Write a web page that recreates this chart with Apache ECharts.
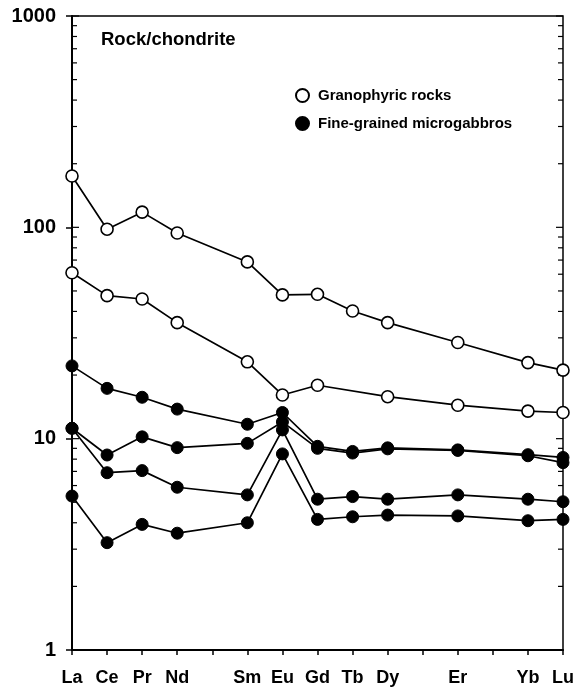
<!DOCTYPE html>
<html>
<head>
<meta charset="utf-8">
<script src="https://cdn.jsdelivr.net/npm/echarts@6/dist/echarts.min.js"></script>
<style>
  html, body { margin: 0; padding: 0; background: #fff; }
  #chart { width: 573px; height: 690px; }
</style>
</head>
<body>
<div id="chart"></div>
<script>
// Rare-earth element sequence along the x axis (Pm, Ho, Tm get a tick but no label)
const elements = ['La', 'Ce', 'Pr', 'Nd', 'Pm', 'Sm', 'Eu', 'Gd', 'Tb', 'Dy', 'Ho', 'Er', 'Tm', 'Yb', 'Lu'];
const analysed = ['La', 'Ce', 'Pr', 'Nd', 'Sm', 'Eu', 'Gd', 'Tb', 'Dy', 'Er', 'Yb', 'Lu'];

// Chondrite-normalised abundances, one value per analysed element
const granophyric1 = [175, 98, 118, 94, 68.6, 47.9, 48.2, 40.2, 35.4, 28.5, 22.9, 21.1];
const granophyric2 = [61, 47.5, 45.8, 35.4, 23.1, 16.1, 17.9, null, 15.8, 14.4, 13.5, 13.3];
const microgabbro1 = [22.1, 17.3, 15.7, 13.8, 11.7, 13.3, 9.2, 8.7, 9.05, 8.85, 8.4, 8.15];
const microgabbro2 = [11.2, 8.37, 10.2, 9.07, 9.5, 12.0, 9.0, 8.55, 8.95, 8.8, 8.3, 7.7];
const microgabbro3 = [11.2, 6.9, 7.06, 5.89, 5.42, 11.0, 5.17, 5.32, 5.17, 5.42, 5.17, 5.03];
const microgabbro4 = [5.35, 3.22, 3.93, 3.57, 4.0, 8.47, 4.15, 4.27, 4.35, 4.31, 4.09, 4.15];

// Log-axis tick positions
const majorTicks = [1, 10, 100, 1000];
const minorTicks = [2, 3, 4, 5, 6, 7, 8, 9, 20, 30, 40, 50, 60, 70, 80, 90, 200, 300, 400, 500, 600, 700, 800, 900];

const openName = 'Granophyric rocks';
const filledName = 'Fine-grained microgabbros';
const FONT = '"Liberation Sans", Arial, Helvetica, sans-serif';

function pairs(values) {
  const out = [];
  values.forEach((v, i) => { if (v !== null) out.push([analysed[i], v]); });
  return out;
}

function pattern(name, values, open) {
  return {
    name: name,
    type: 'line',
    data: pairs(values),
    symbol: 'circle',
    symbolSize: 12,
    lineStyle: { color: '#000', width: 1.7 },
    itemStyle: open
      ? { color: '#fff', borderColor: '#000', borderWidth: 1.6 }
      : { color: '#000', borderColor: '#000', borderWidth: 1 },
    emphasis: { disabled: true },
    z: 3
  };
}

const tickData = majorTicks.map(v => [0, v, 7]).concat(minorTicks.map(v => [0, v, 5]));

const chart = echarts.init(document.getElementById('chart'));
chart.setOption({
  animation: false,
  backgroundColor: '#fff',
  textStyle: { fontFamily: FONT },
  title: {
    text: 'Rock/chondrite',
    left: 96,
    top: 25,
    textStyle: { fontFamily: FONT, fontSize: 18.5, fontWeight: 'bold', color: '#000' }
  },
  legend: {
    data: [openName, filledName],
    orient: 'vertical',
    left: 290,
    top: 83,
    icon: 'circle',
    itemWidth: 13,
    itemHeight: 13,
    itemGap: 13,
    textStyle: { fontFamily: FONT, fontSize: 15, fontWeight: 'bold', color: '#000', padding: [0, 0, 0, 4] },
    selectedMode: false
  },
  grid: {
    left: 72, right: 10, top: 16, bottom: 40,
    outerBoundsMode: 'none',
    containLabel: false,
    show: true, borderColor: '#000', borderWidth: 1.5
  },
  xAxis: {
    type: 'category',
    data: elements,
    boundaryGap: false,
    axisLine: { lineStyle: { color: '#000', width: 2 } },
    axisTick: { show: true, inside: false, length: 5, interval: 0, lineStyle: { color: '#000', width: 1.5 } },
    axisLabel: {
      interval: 0,
      margin: 19,
      color: '#000',
      fontFamily: FONT,
      fontSize: 18,
      fontWeight: 'bold',
      formatter: v => (analysed.indexOf(v) >= 0 ? v : '')
    },
    splitLine: { show: false }
  },
  yAxis: {
    type: 'log',
    logBase: 10,
    min: 1,
    max: 1000,
    axisLine: { show: true, lineStyle: { color: '#000', width: 2 } },
    axisTick: { show: true, inside: false, length: 6, lineStyle: { color: '#000', width: 1.5 } },
    axisLabel: {
      margin: 16,
      color: '#000',
      fontFamily: FONT,
      fontSize: 20,
      fontWeight: 'bold',
      formatter: v => String(v)
    },
    splitLine: { show: false },
    minorTick: { show: false }
  },
  series: [
    {
      type: 'custom',
      silent: true,
      data: tickData,
      encode: { x: 0, y: 1 },
      z: 1,
      renderItem: (params, api) => {
        const cs = params.coordSys;
        const y = api.coord([0, api.value(1)])[1];
        const len = api.value(2);
        const style = { stroke: '#000', lineWidth: 1.2 };
        return {
          type: 'group',
          children: [
            { type: 'line', shape: { x1: cs.x, y1: y, x2: cs.x + len, y2: y }, style: style },
            { type: 'line', shape: { x1: cs.x + cs.width - len, y1: y, x2: cs.x + cs.width, y2: y }, style: style }
          ]
        };
      }
    },
    pattern(openName, granophyric1, true),
    pattern(openName, granophyric2, true),
    pattern(filledName, microgabbro1, false),
    pattern(filledName, microgabbro2, false),
    pattern(filledName, microgabbro3, false),
    pattern(filledName, microgabbro4, false)
  ]
});
</script>
</body>
</html>
